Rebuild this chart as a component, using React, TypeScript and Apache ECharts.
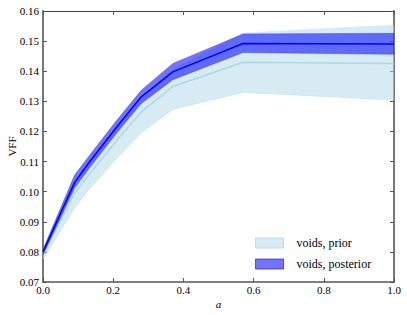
import React, { useEffect, useRef } from "react";
import * as echarts from "echarts";

const aValues = [0, 0.09, 0.13, 0.21, 0.28, 0.37, 0.57, 1.0];
const priorMid = [0.0795, 0.0995, 0.1055, 0.1170, 0.1265, 0.1349, 0.1430, 0.1426];
const priorLow = [0.0775, 0.0945, 0.1005, 0.1110, 0.1195, 0.1273, 0.1329, 0.1304];
const priorHigh = [0.0810, 0.1035, 0.1095, 0.1215, 0.1315, 0.1405, 0.1527, 0.1553];
const postMid = [0.0800, 0.1030, 0.1095, 0.1215, 0.1315, 0.1398, 0.1492, 0.1490];
const postLow = [0.0790, 0.1012, 0.1075, 0.1195, 0.1293, 0.1372, 0.1462, 0.1456];
const postHigh = [0.0808, 0.1055, 0.1117, 0.1237, 0.1337, 0.1426, 0.1524, 0.1526];
const seriesNames = ["voids, prior", "voids, posterior"];

const FONT = "'Liberation Serif', 'DejaVu Serif', serif";

function bandItem(low: number[], high: number[], fill: string, stroke: string, lw: number) {
  return (params: any, api: any) => {
    if (params.dataIndex !== 0) return null;
    const pts: number[][] = [];
    for (let i = 0; i < aValues.length; i++) pts.push(api.coord([aValues[i], high[i]]));
    for (let i = aValues.length - 1; i >= 0; i--) pts.push(api.coord([aValues[i], low[i]]));
    return {
      type: "polygon",
      shape: { points: pts },
      style: { fill, stroke, lineWidth: lw },
    };
  };
}

export default function App() {
  const ref = useRef<HTMLDivElement>(null);
  useEffect(() => {
    if (!ref.current) return;
    const chart = echarts.init(ref.current, null, { renderer: "svg" });
    const priorFill = "rgba(173,216,230,0.5)";
    const postFill = "rgba(0,0,255,0.55)";
    const axisCommon = {
      min: 0,
      max: 1,
      interval: 0.2,
    };
    chart.setOption({
      animation: false,
      textStyle: { fontFamily: FONT },
      grid: { left: 43, right: 13, top: 11, bottom: 33, containLabel: false, outerBoundsMode: "none" },
      xAxis: [
        {
          type: "value",
          ...axisCommon,
          name: "a",
          nameLocation: "middle",
          nameGap: 16,
          nameMoveOverlap: false,
          nameTextStyle: { fontFamily: FONT, fontStyle: "italic", fontSize: 11, color: "#000" },
          axisLine: { show: true, onZero: false, lineStyle: { color: "#555", width: 1.5 } },
          axisTick: { show: true, inside: true, length: 4, lineStyle: { color: "#555" } },
          axisLabel: {
            fontFamily: FONT,
            fontSize: 11,
            color: "#000",
            margin: 2,
            formatter: (v: number) => v.toFixed(1),
          },
          splitLine: { show: false },
        },
        {
          type: "value",
          ...axisCommon,
          position: "top",
          axisLine: { show: true, onZero: false, lineStyle: { color: "#444", width: 1 } },
          axisTick: { show: true, inside: true, length: 4, lineStyle: { color: "#555" } },
          axisLabel: { show: false },
          splitLine: { show: false },
        },
      ],
      yAxis: [
        {
          type: "value",
          min: 0.07,
          max: 0.16,
          interval: 0.01,
          name: "VFF",
          nameLocation: "middle",
          nameGap: 26,
          nameMoveOverlap: false,
          nameTextStyle: { fontFamily: FONT, fontSize: 11, color: "#000" },
          axisLine: { show: true, onZero: false, lineStyle: { color: "#777", width: 2 } },
          axisTick: { show: true, inside: true, length: 4, lineStyle: { color: "#555" } },
          axisLabel: {
            fontFamily: FONT,
            fontSize: 11,
            color: "#000",
            margin: 4,
            formatter: (v: number) => v.toFixed(2),
          },
          splitLine: { show: false },
        },
        {
          type: "value",
          min: 0.07,
          max: 0.16,
          interval: 0.01,
          position: "right",
          axisLine: { show: true, onZero: false, lineStyle: { color: "#777", width: 2 } },
          axisTick: { show: true, inside: true, length: 4, lineStyle: { color: "#555" } },
          axisLabel: { show: false },
          splitLine: { show: false },
        },
      ],
      legend: {
        orient: "vertical",
        left: 255,
        top: 237,
        padding: 0,
        itemWidth: 28,
        itemHeight: 10,
        itemGap: 9,
        icon: "rect",
        textStyle: { fontFamily: FONT, fontSize: 12, color: "#000", padding: [0, 0, 0, 8] },
        data: [
          { name: seriesNames[0], itemStyle: { color: priorFill, borderColor: "rgba(173,216,230,0.8)", borderWidth: 1 } },
          { name: seriesNames[1], itemStyle: { color: postFill, borderColor: "rgba(0,0,255,0.6)", borderWidth: 1 } },
        ],
      },
      series: [
        {
          name: seriesNames[0],
          type: "custom",
          renderItem: bandItem(priorLow, priorHigh, priorFill, "rgba(173,216,230,0.6)", 0.5),
          data: aValues.map((a, i) => [a, priorMid[i]]),
          itemStyle: { color: priorFill },
          z: 1,
          clip: true,
        },
        {
          name: "prior-line",
          type: "line",
          data: aValues.map((a, i) => [a, priorMid[i]]),
          symbol: "none",
          lineStyle: { color: "#add8e6", width: 1.5 },
          z: 2,
        },
        {
          name: seriesNames[1],
          type: "custom",
          renderItem: bandItem(postLow, postHigh, postFill, "rgba(0,0,255,0.5)", 0.6),
          data: aValues.map((a, i) => [a, postMid[i]]),
          itemStyle: { color: postFill },
          z: 3,
          clip: true,
        },
        {
          name: "post-line",
          type: "line",
          data: aValues.map((a, i) => [a, postMid[i]]),
          symbol: "none",
          lineStyle: { color: "#0000ff", width: 1.5 },
          z: 4,
        },
      ],
    });
    return () => chart.dispose();
  }, []);
  return <div ref={ref} style={{ width: 407, height: 315, position: "absolute", left: 0, top: 0 }} />;
}
